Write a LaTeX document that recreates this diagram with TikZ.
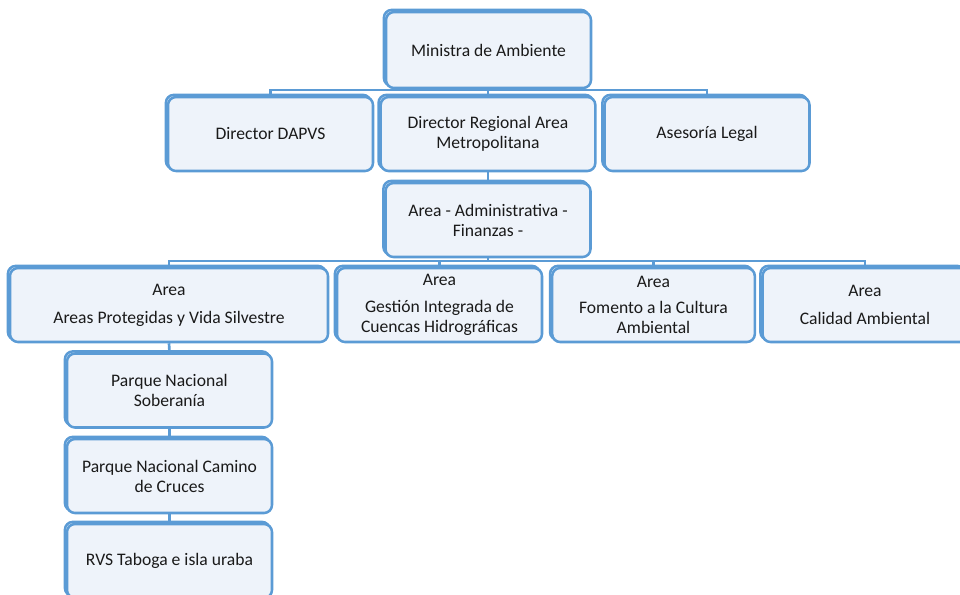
\documentclass[tikz,border=0pt]{standalone}
\usepackage{fontspec}
\setmainfont{Carlito}
\definecolor{boxblue}{HTML}{5B9BD5}
\definecolor{boxfill}{HTML}{EEF3FA}
\definecolor{txt}{HTML}{1A1A1A}
\begin{document}
\begin{tikzpicture}[x=0.75pt,y=-0.75pt,
  orgbox/.style={draw=boxblue, line width=1.9pt, fill=boxfill, rounded corners=6pt,
    minimum width=153.75pt, minimum height=55.5pt, inner sep=1pt,
    align=center, text=txt, font=\fontsize{13.2}{15}\selectfont,
    preaction={draw=boxblue, line width=1.9pt, rounded corners=6pt,
      transform canvas={shift={(-1.6pt,1.6pt)}}}},
  conn/.style={draw=boxblue, line width=2pt}]
\useasboundingbox (0,0) rectangle (960,594);
\clip (0,0) rectangle (960,594);
\coordinate (bus1) at (488,90);
\coordinate (bus2) at (488,261);
% boxes
\node[orgbox, minimum height=57pt] (min) at (488.5,50) {Ministra de Ambiente};
\node[orgbox] (dapvs) at (270.5,134) {Director DAPVS};
\node[orgbox, minimum width=161pt] (dreg) at (488,134) {Director Regional Area\\Metropolitana};
\node[orgbox] (legal) at (707,134) {Asesoría Legal};
\node[orgbox] (admin) at (488,220) {Area - Administrativa -\\Finanzas -};
\node[orgbox, minimum width=238.5pt] (prot) at (169,305) {Area\\[6pt]Areas Protegidas y Vida Silvestre};
\node[orgbox] (gest) at (439.5,305) {Area\\[5pt]Gestión Integrada de\\Cuencas Hidrográficas};
\node[orgbox, minimum width=152pt] (fom) at (653.5,305) {Area\\[5pt]Fomento a la Cultura\\Ambiental};
\node[orgbox] (cal) at (865,305) {Area\\[6pt]Calidad Ambiental};
\node[orgbox] (sob) at (169.5,390.5) {Parque Nacional\\Soberanía};
\node[orgbox] (cam) at (169.5,476) {Parque Nacional Camino\\de Cruces};
\node[orgbox] (rvs) at (169.5,561) {RVS Taboga e isla uraba};
% lines
\draw[conn] (min.south) -- (bus1);
\draw[conn] (dapvs.north) |- (bus1) -| (legal.north);
\draw[conn] (bus1) -- (dreg.north);
\draw[conn] (dreg.south) -- (admin.north);
\draw[conn] (admin.south) -- (bus2);
\draw[conn] (prot.north) |- (bus2) -| (cal.north);
\draw[conn] (gest.north) -- (gest.north |- bus2);
\draw[conn] (fom.north) -- (fom.north |- bus2);
\draw[conn] (prot.south) -- (sob.north);
\draw[conn] (sob.south) -- (cam.north);
\draw[conn] (cam.south) -- (rvs.north);
\end{tikzpicture}
\end{document}
